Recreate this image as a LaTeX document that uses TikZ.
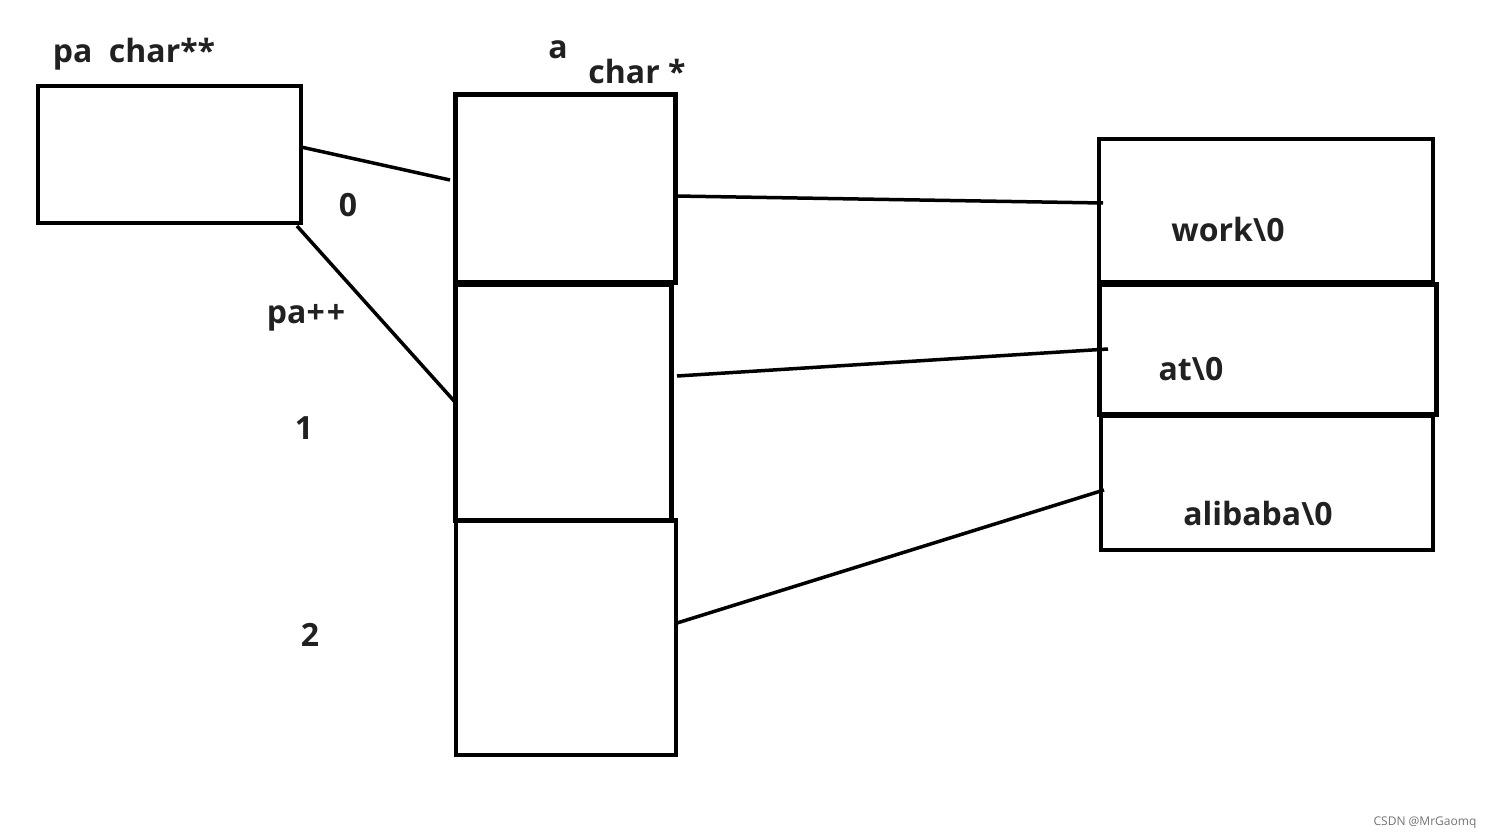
\documentclass[tikz,border=0pt]{standalone}
\usepackage{fontspec}
\setmainfont{Open Sans}
\begin{document}
\begin{tikzpicture}[x=1pt,y=-1pt,
  box/.style={draw=black,rectangle,inner sep=0,outer sep=0,line width=3.5pt},
  thick box/.style={box,line width=5pt},
  link/.style={draw=black,line width=3.5pt},
  lbl/.style={text=black!87,font=\fontsize{32}{38}\selectfont\bfseries,inner sep=0}]
\useasboundingbox[fill=white] (0,0) rectangle (1492,840);
% pointer box
\node[box,minimum width=263pt,minimum height=137pt] (pa) at (169.5,154.5) {};
% array a
\node[thick box,minimum width=220pt,minimum height=187pt] (a0) at (565,188.5) {};
\node[thick box,minimum width=216pt,minimum height=236pt] (a1) at (563,402) {};
\node[box,minimum width=220pt,minimum height=235pt] (a2) at (566,637.5) {};
% strings
\node[box,minimum width=334pt,minimum height=143pt] (s0) at (1266,210.5) {};
\node[thick box,minimum width=337pt,minimum height=130pt] (s1) at (1267.5,349) {};
\node[box,minimum width=332pt,minimum height=134pt] (s2) at (1267,483) {};
% connectors
\draw[link] ([yshift=7.5pt]pa.east) -- ([xshift=-5pt,yshift=8.5pt]a0.west);
\draw[link] ([xshift=-4pt,yshift=-3pt]pa.south east) -- (a1.west);
\draw[link] ([yshift=-7.5pt]a0.east) -- ([xshift=4pt,yshift=7.5pt]s0.west);
\draw[link] ([xshift=6pt,yshift=26pt]a1.east) -- ([xshift=9pt]s1.west);
\draw[link] ([xshift=1pt,yshift=14.5pt]a2.east) -- ([xshift=3pt,yshift=-7pt]s2.west);
% labels
\node[lbl] (tpa) at (134,54) {pa\ \ char**};
\node[lbl] (ta) at (558,50) {a};
\node[lbl] (tchar) at (637,72) {char *};
\node[lbl] (t0) at (348,205) {0};
\node[lbl] (tpp) at (306,318) {pa+\kern2pt+};
\node[lbl] (t1) at (304,428) {1};
\node[lbl] (t2) at (310,635) {2};
\node[lbl] (w0) at (1228,229) {work\textbackslash 0};
\node[lbl] (w1) at (1191,369) {at\textbackslash 0};
\node[lbl] (w2) at (1258,513) {alibaba\textbackslash 0};
\node[text=black!55,font=\fontsize{12}{14}\selectfont,inner sep=0] (wm) at (1425,823) {CSDN @MrGaomq};
\end{tikzpicture}
\end{document}
